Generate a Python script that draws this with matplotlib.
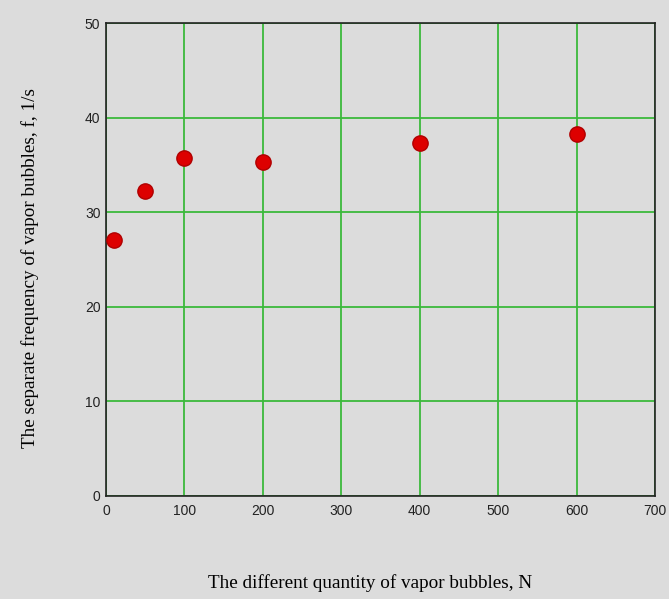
import numpy as np
import matplotlib.pyplot as plt

# bubble count vs separation frequency
n_bubbles = [10, 50, 100, 200, 400, 600]
freq = [27.1, 32.2, 35.7, 35.3, 37.3, 38.3]

x_ticks = [0, 100, 200, 300, 400, 500, 600, 700]
y_ticks = [0, 10, 20, 30, 40, 50]

bg = '#dcdcdc'
fig = plt.figure(figsize=(6.69, 5.99), dpi=100, facecolor=bg)
ax = fig.add_axes([0.1584, 0.172, 0.8206, 0.7896], facecolor=bg)

ax.set_xlim(0, 700)
ax.set_ylim(0, 50)
ax.set_xticks(x_ticks)
ax.set_yticks(y_ticks)
ax.tick_params(length=0, labelsize=10, colors='#222222')
ax.tick_params(axis='x', pad=6)
ax.tick_params(axis='y', pad=4)
for lab in ax.get_xticklabels() + ax.get_yticklabels():
    lab.set_family('Liberation Sans')

ax.grid(True, color='#3cb93c', linewidth=1.3)
ax.set_axisbelow(True)
for s in ax.spines.values():
    s.set_color('#222222')
    s.set_linewidth(1.2)

ax.plot(n_bubbles, freq, 'o', markersize=11, markerfacecolor='#dd0000',
        markeredgecolor='#b00000', markeredgewidth=1.0, zorder=3)

# axis titles placed in figure coords like the original
fig.text(370 / 669, 1 - 583 / 599, 'The different quantity of vapor bubbles, N',
         family='Liberation Serif', fontsize=13.8, ha='center', va='center')
fig.text(30 / 669, 1 - 268 / 599, 'The separate frequency of vapor bubbles, f, 1/s',
         family='Liberation Serif', fontsize=13.8, ha='center', va='center',
         rotation=90)

plt.savefig('out.png', dpi=100, facecolor=bg)
